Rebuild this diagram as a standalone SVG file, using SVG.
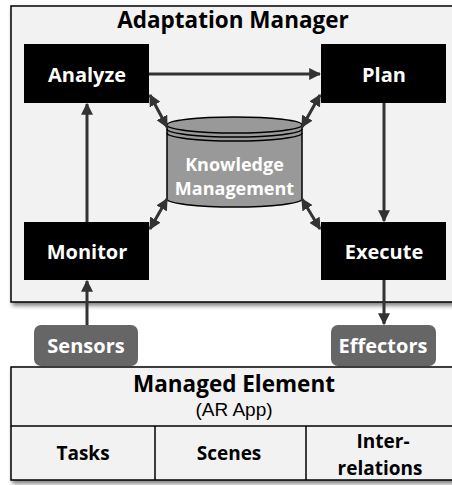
<svg xmlns="http://www.w3.org/2000/svg" width="452" height="485" viewBox="0 0 452 485">
<defs>
<style>
.t{font-family:"Open Sans","Liberation Sans",sans-serif;font-weight:bold;text-anchor:middle}
.w{fill:#fff}
.blk{fill:#000}
.ln{stroke:#333;stroke-width:3;fill:none}
</style>
<marker id="ah" viewBox="0 0 10 10" refX="9" refY="5" markerWidth="4" markerHeight="4" orient="auto-start-reverse" markerUnits="strokeWidth">
<path d="M0,0 L10,5 L0,10 z" fill="#333"/>
</marker>
<filter id="sh" x="-5%" y="-5%" width="112%" height="115%">
<feDropShadow dx="2" dy="3" stdDeviation="2" flood-color="#000" flood-opacity="0.5"/>
</filter>
</defs>
<g id="adaptation-manager">
<rect x="11" y="6" width="445" height="296" fill="#f2f2f2" stroke="#000" stroke-width="1.5" filter="url(#sh)"/>
<text class="t" x="233" y="28" font-size="22.5">Adaptation Manager</text>
</g>
<g id="analyze"><rect x="24" y="44" width="125" height="59" class="blk"/><text class="t w" x="87" y="82" font-size="20">Analyze</text></g>
<g id="plan"><rect x="321" y="44" width="125" height="59" class="blk"/><text class="t w" x="384" y="82" font-size="20">Plan</text></g>
<g id="monitor"><rect x="24" y="222" width="125" height="58" class="blk"/><text class="t w" x="87" y="259" font-size="20">Monitor</text></g>
<g id="execute"><rect x="321" y="222" width="125" height="58" class="blk"/><text class="t w" x="384" y="259" font-size="20">Execute</text></g>
<g id="knowledge">
<path d="M167,125 L167,199 A67.5,8 0 0 0 302,199 L302,125 Z" fill="#999" stroke="#000" stroke-width="1.5"/>
<path d="M167,129 A67.5,8 0 0 0 302,129 M167,133 A67.5,8 0 0 0 302,133" fill="none" stroke="#000" stroke-width="1.5"/>
<ellipse cx="234.5" cy="125" rx="67.5" ry="8" fill="#999" stroke="#000" stroke-width="1.5"/>
<text class="t w" x="234.5" y="171" font-size="18">Knowledge</text>
<text class="t w" x="234.5" y="195" font-size="18">Management</text>
</g>
<g id="sensors"><rect x="34" y="325" width="104" height="41" rx="7" fill="#666"/><text class="t w" x="86" y="353" font-size="20">Sensors</text></g>
<g id="effectors"><rect x="331" y="325" width="105" height="41" rx="7" fill="#666"/><text class="t w" x="383" y="353" font-size="20">Effectors</text></g>
<g id="managed-element" filter="url(#sh)">
<rect x="11" y="367" width="445" height="113" fill="#f2f2f2" stroke="#000" stroke-width="1.5"/>
<line x1="11" y1="426" x2="456" y2="426" stroke="#000" stroke-width="1.5"/>
<line x1="155" y1="426" x2="155" y2="480" stroke="#000" stroke-width="1.5"/>
<line x1="306" y1="426" x2="306" y2="480" stroke="#000" stroke-width="1.5"/>
</g>
<g id="managed-texts">
<text class="t" x="234" y="392" font-size="22.5">Managed Element</text>
<text x="234" y="416" font-size="19" text-anchor="middle" font-family="Liberation Sans, Arial, sans-serif">(AR App)</text>
<text class="t" x="83" y="460" font-size="19">Tasks</text>
<text class="t" x="229" y="460" font-size="19">Scenes</text>
<text class="t" x="383" y="448" font-size="19">Inter-</text>
<text class="t" x="380" y="475" font-size="19">relations</text>
</g>
<g id="connectors" class="ln">
<line x1="149" y1="74" x2="320" y2="74" marker-end="url(#ah)"/>
<line x1="384" y1="103" x2="384" y2="221" marker-end="url(#ah)"/>
<line x1="87" y1="222" x2="87" y2="104" marker-end="url(#ah)"/>
<line x1="87" y1="325" x2="87" y2="281" marker-end="url(#ah)"/>
<line x1="384" y1="280" x2="384" y2="324" marker-end="url(#ah)"/>
<line x1="150" y1="95" x2="167" y2="127" marker-start="url(#ah)" marker-end="url(#ah)"/>
<line x1="320" y1="95" x2="302" y2="127" marker-start="url(#ah)" marker-end="url(#ah)"/>
<line x1="150" y1="229" x2="167" y2="199" marker-start="url(#ah)" marker-end="url(#ah)"/>
<line x1="320" y1="229" x2="302" y2="199" marker-start="url(#ah)" marker-end="url(#ah)"/>
</g>
</svg>
